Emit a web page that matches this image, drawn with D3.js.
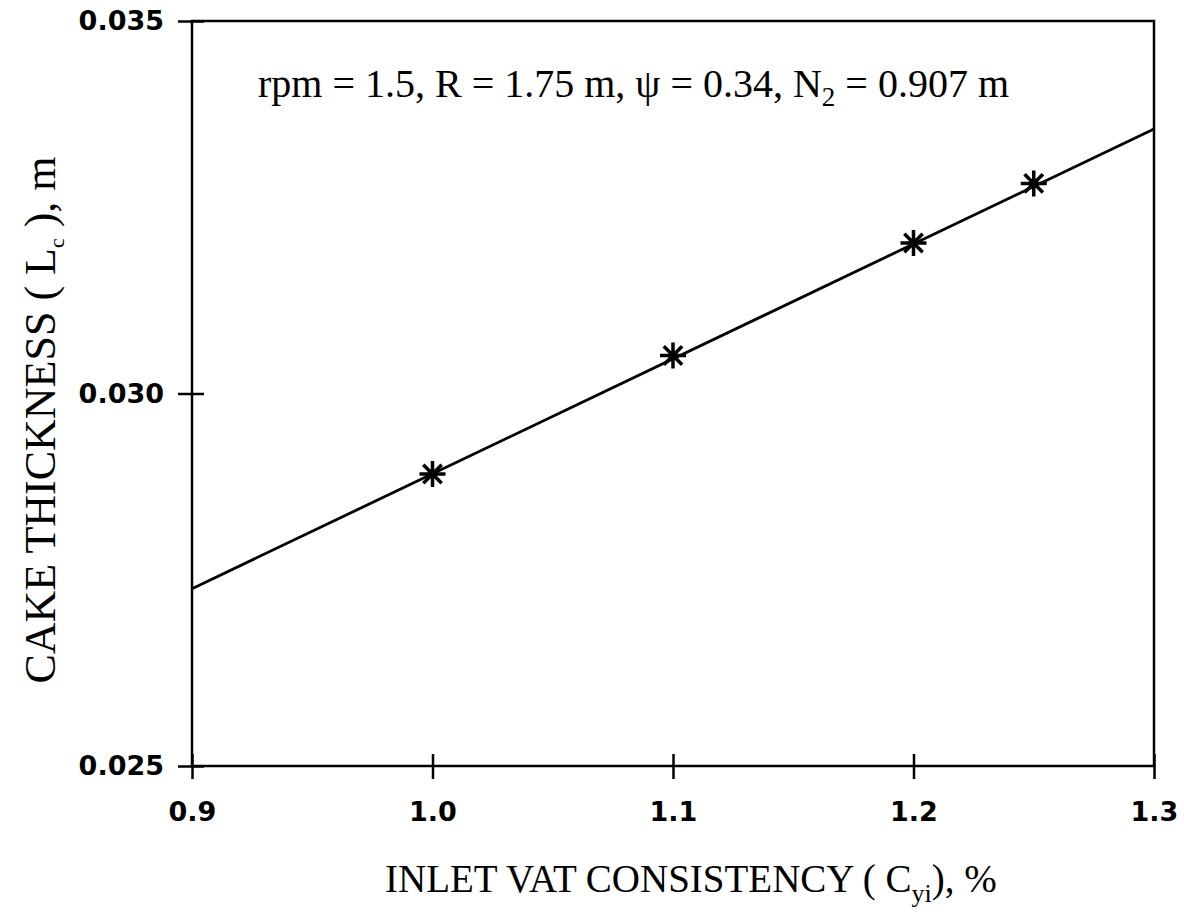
<!DOCTYPE html>
<html>
<head>
<meta charset="utf-8">
<script src="https://cdn.jsdelivr.net/npm/d3@7"></script>
<style>
  body { margin: 0; background: #fff; }
  .tick text { font-family: "DejaVu Sans", Arial, sans-serif; font-weight: bold; font-size: 27px; fill: #000; }
  .lbl { font-family: "Liberation Serif", "Times New Roman", serif; fill: #000; }
</style>
</head>
<body>
<div id="chart"></div>
<script>
// measured points
const consistency = [1.0, 1.1, 1.2, 1.25]
const thickness = [0.02892, 0.03051, 0.03202, 0.03282]
// fitted line, drawn across the whole x range
const fitX = [0.9, 1.3]
const fitY = [0.02738, 0.03355]
const xTicks = [0.9, 1.0, 1.1, 1.2, 1.3]
const yTicks = [0.025, 0.030, 0.035]

const W = 1184, H = 920
const margin = { top: 21, right: 30, bottom: 154, left: 192 }
const width = W - margin.left - margin.right
const height = H - margin.top - margin.bottom

const svg = d3.select("#chart").append("svg")
  .attr("width", W).attr("height", H)
const g = svg.append("g")
  .attr("transform", "translate(" + margin.left + "," + margin.top + ")")

const x = d3.scaleLinear().domain([0.9, 1.3]).range([0, width])
const y = d3.scaleLinear().domain([0.025, 0.035]).range([height, 0])

// frame
g.append("rect")
  .attr("width", width).attr("height", height)
  .attr("fill", "none").attr("stroke", "#000").attr("stroke-width", 2.5)

// y axis, ticks crossing the axis
const yAx = g.append("g")
  .call(d3.axisLeft(y).tickValues(yTicks).tickFormat(d3.format(".3f")).tickSize(14).tickPadding(14))
yAx.select(".domain").remove()
yAx.selectAll(".tick line").attr("x1", 12).attr("stroke-width", 2.5)

// x axis
const xAx = g.append("g")
  .attr("transform", "translate(0," + height + ")")
  .call(d3.axisBottom(x).tickValues(xTicks).tickFormat(d3.format(".1f")).tickSize(13).tickPadding(23))
xAx.select(".domain").remove()
xAx.selectAll(".tick line").attr("y1", -12).attr("stroke-width", 2.5)

// fitted line
g.append("path")
  .datum(fitX.map((d, i) => [d, fitY[i]]))
  .attr("fill", "none").attr("stroke", "#000").attr("stroke-width", 2.8)
  .attr("d", d3.line().x(d => x(d[0])).y(d => y(d[1])))

// 8-armed star markers
const r = 13
const starPath = d3.range(4).map(i => {
  const a = i * Math.PI / 4
  const dx = r * Math.cos(a), dy = r * Math.sin(a)
  return "M" + (-dx) + "," + (-dy) + "L" + dx + "," + dy
}).join("")
g.selectAll(".pt")
  .data(consistency.map((d, i) => [d, thickness[i]]))
  .join("path")
  .attr("class", "pt")
  .attr("transform", d => "translate(" + x(d[0]) + "," + y(d[1]) + ")")
  .attr("d", starPath)
  .attr("stroke", "#000").attr("stroke-width", 3.5)

// annotation
const ann = svg.append("text").attr("class", "lbl")
  .attr("x", 258).attr("y", 97).style("font-size", "40px")
ann.append("tspan").text("rpm = 1.5, R = 1.75 m, \u03c8 = 0.34, N")
ann.append("tspan").attr("dy", 9).style("font-size", "27px").text("2")
ann.append("tspan").attr("dy", -9).text(" = 0.907 m")

// x label
const xl = svg.append("text").attr("class", "lbl")
  .attr("x", 385).attr("y", 892).style("font-size", "39px")
xl.append("tspan").text("INLET VAT CONSISTENCY ( C")
xl.append("tspan").attr("dy", 10).style("font-size", "26px").text("yi")
xl.append("tspan").attr("dy", -10).text("), %")

// y label
const yl = svg.append("text").attr("class", "lbl")
  .attr("transform", "translate(55,420) rotate(-90)")
  .attr("text-anchor", "middle").style("font-size", "44px")
yl.append("tspan").text("CAKE THICKNESS ( L")
yl.append("tspan").attr("dy", 9).style("font-size", "22px").text("c")
yl.append("tspan").attr("dy", -9).text(" ), m")
</script>
</body>
</html>
